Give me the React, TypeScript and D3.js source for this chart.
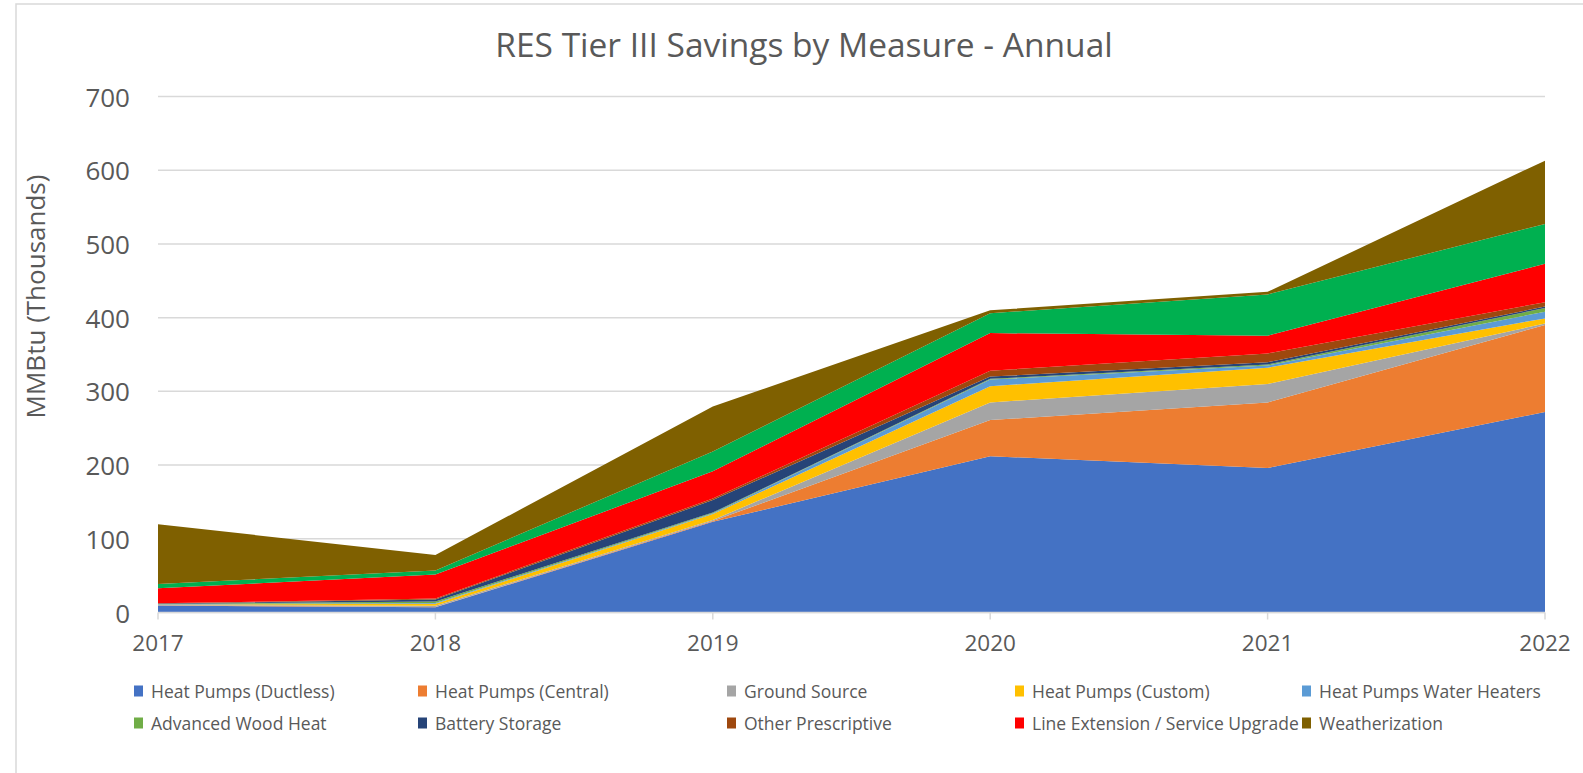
import React from 'react';
import * as d3 from 'd3';

// categories
const years = ['2017', '2018', '2019', '2020', '2021', '2022'];

// series values (MMBtu, thousands)
const heatPumpsDuctless = [9.5, 7, 123, 212, 196, 272];
const heatPumpsCentral = [0.3, 0.5, 1, 49, 89, 118];
const groundSource = [0.3, 1.5, 1.5, 24, 25, 2];
const heatPumpsCustom = [0.5, 3, 8, 22, 22, 7];
const heatPumpWaterHeaters = [0.5, 1, 1, 9, 3, 9];
const advancedWoodHeat = [0.5, 2, 1, 1, 1.5, 5];
const batteryStorage = [0.5, 2.5, 17, 3, 3, 2];
const otherPrescriptive = [0.3, 1.5, 2, 8, 12, 6];
const lineExtension = [20.5, 32.5, 37, 51, 24, 52];
const unlistedGreen = [5.8, 5.5, 27, 27, 56, 54]; // series shown in the plot but not in the legend
const weatherization = [81, 21, 61, 4, 3.5, 86];

const yTicks = [0, 100, 200, 300, 400, 500, 600, 700];

const seriesList = [
  { key: 'Heat Pumps (Ductless)', values: heatPumpsDuctless, color: '#4472C4', legend: true },
  { key: 'Heat Pumps (Central)', values: heatPumpsCentral, color: '#ED7D31', legend: true },
  { key: 'Ground Source', values: groundSource, color: '#A5A5A5', legend: true },
  { key: 'Heat Pumps (Custom)', values: heatPumpsCustom, color: '#FFC000', legend: true },
  { key: 'Heat Pumps Water Heaters', values: heatPumpWaterHeaters, color: '#5B9BD5', legend: true },
  { key: 'Advanced Wood Heat', values: advancedWoodHeat, color: '#70AD47', legend: true },
  { key: 'Battery Storage', values: batteryStorage, color: '#264478', legend: true },
  { key: 'Other Prescriptive', values: otherPrescriptive, color: '#9E480E', legend: true },
  { key: 'Line Extension / Service Upgrade', values: lineExtension, color: '#FF0000', legend: true },
  { key: 'unlisted', values: unlistedGreen, color: '#00B050', legend: false },
  { key: 'Weatherization', values: weatherization, color: '#7F6000', legend: true },
];

const W = 1583;
const H = 773;
const margin = { left: 158, right: W - 1545, top: 96.5, bottom: H - 612.5 };
const font = '"Open Sans", sans-serif';
const textColor = '#595959';

export default function App() {
  const table = years.map((y, i) => {
    const row: any = { year: y };
    seriesList.forEach(s => { row[s.key] = s.values[i]; });
    return row;
  });

  const stack = d3.stack().keys(seriesList.map(s => s.key));
  const layers = stack(table);

  const x = d3.scalePoint().domain(years).range([margin.left, W - margin.right]);
  const y = d3.scaleLinear().domain([0, 700]).range([H - margin.bottom, margin.top]);

  const area = d3.area<any>()
    .x(d => x(d.data.year) as number)
    .y0(d => y(d[0]))
    .y1(d => y(d[1]));

  const legendItems = seriesList.filter(s => s.legend);
  const colX = [134, 418, 727, 1015, 1302];
  const rowY = [691, 723];

  return (
    <svg width={W} height={H} style={{ position: 'absolute', left: 0, top: 0, background: '#fff' }}>
      <rect x={16} y={4} width={1600} height={800} fill="#fff" stroke="#D9D9D9" strokeWidth={1.5} />
      <text x={804} y={43.5} textAnchor="middle" dominantBaseline="central"
        fontFamily={font} fontSize={33.5} fill={textColor}>
        RES Tier III Savings by Measure - Annual
      </text>

      {/* gridlines */}
      {yTicks.map(t => (
        <line key={'g' + t} x1={margin.left} x2={W - margin.right} y1={y(t)} y2={y(t)}
          stroke="#D9D9D9" strokeWidth={1.5} />
      ))}

      {/* areas */}
      {layers.map((layer, i) => (
        <path key={layer.key} d={area(layer as any) || ''} fill={seriesList[i].color} />
      ))}

      {/* x axis */}
      <line x1={margin.left} x2={W - margin.right} y1={y(0)} y2={y(0)} stroke="#D9D9D9" strokeWidth={1.5} />
      {years.map(yr => (
        <g key={yr}>
          <line x1={x(yr)} x2={x(yr)} y1={y(0)} y2={y(0) + 7} stroke="#D9D9D9" strokeWidth={1.5} />
          <text x={x(yr)} y={642} textAnchor="middle" dominantBaseline="central"
            fontFamily={font} fontSize={22.5} fill={textColor}>{yr}</text>
        </g>
      ))}

      {/* y axis labels */}
      {yTicks.map(t => (
        <text key={'t' + t} x={130} y={y(t)} textAnchor="end" dominantBaseline="central"
          fontFamily={font} fontSize={26} fill={textColor}>{t}</text>
      ))}
      <text transform={`translate(35, ${(y(0) + y(700)) / 2 - 58}) rotate(-90)`} textAnchor="middle"
        dominantBaseline="central" fontFamily={font} fontSize={26} fill={textColor}>
        MMBtu (Thousands)
      </text>

      {/* legend */}
      {legendItems.map((s, i) => {
        const cx = colX[i % 5];
        const cy = rowY[Math.floor(i / 5)];
        return (
          <g key={s.key}>
            <rect x={cx} y={cy - 5.5} width={9} height={11} fill={s.color} />
            <text x={cx + 17} y={cy} dominantBaseline="central" fontFamily={font}
              fontSize={17.5} fill={textColor}>{s.key}</text>
          </g>
        );
      })}
    </svg>
  );
}
